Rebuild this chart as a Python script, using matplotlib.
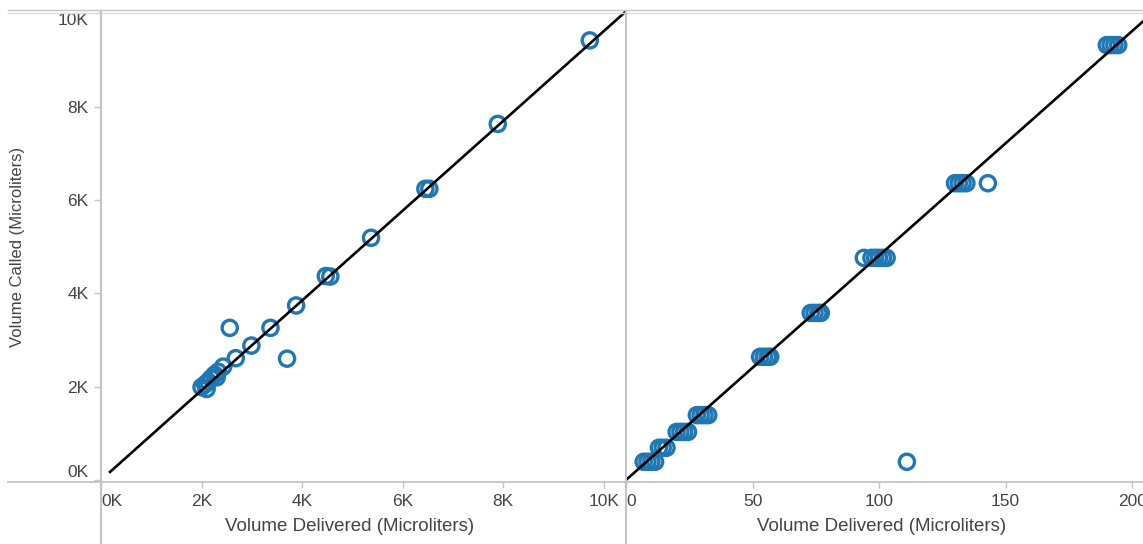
import numpy as np
import matplotlib.pyplot as plt
from matplotlib.lines import Line2D

plt.rcParams['font.family'] = ['Liberation Sans', 'DejaVu Sans']

# ---- data -------------------------------------------------------------------
# left panel: large volumes (microliters)
left_delivered = [2000, 2070, 2100, 2130, 2190, 2260, 2300, 2330, 2430, 2680,
                  2990, 3370, 3880, 4470, 4560, 5370, 6450, 6530, 7890, 9720,
                  2560, 3700]
left_called = [1990, 2050, 1950, 2110, 2180, 2260, 2200, 2320, 2430, 2610,
               2880, 3260, 3740, 4370, 4360, 5190, 6240, 6240, 7630, 9420,
               3260, 2600]

# right panel: small volumes delivered, same "called" axis
right_delivered = [7, 8.5, 10, 11.5,
                   13, 14.5, 16,
                   20, 21.5, 23, 24.5,
                   28, 29.5, 31, 32.5,
                   53, 54.5, 56, 57,
                   73, 74.5, 76, 77,
                   94, 97, 98.5, 100, 101.5, 103,
                   130, 131.5, 133, 134.5, 143,
                   190, 191.5, 193, 194.5,
                   111]
right_called = [390, 390, 390, 390,
                690, 690, 690,
                1030, 1030, 1030, 1030,
                1390, 1390, 1390, 1390,
                2640, 2640, 2640, 2640,
                3580, 3580, 3580, 3580,
                4760, 4760, 4760, 4760, 4760, 4760,
                6360, 6360, 6360, 6360, 6360,
                9320, 9320, 9320, 9320,
                390]

# trend lines: (slope, intercept, start x)
left_fit = (0.962, 0.0, 180)
right_fit = (48.1, 0.0, 0)

left_xticks = [0, 2000, 4000, 6000, 8000, 10000]
left_xlabels = ["0K", "2K", "4K", "6K", "8K", "10K"]
right_xticks = [0, 50, 100, 150, 200]
right_xlabels = ["0", "50", "100", "150", "200"]
yticks = [0, 2000, 4000, 6000, 8000, 10000]
ylabels = ["0K", "2K", "4K", "6K", "8K", "10K"]

# ---- style ------------------------------------------------------------------
BLUE = "#1f77b4"
GRID = "#c4c4c4"
TXT = "#444444"

W, H = 1143, 544
fig = plt.figure(figsize=(W / 100, H / 100), dpi=100)


def fx(px):
    return px / W


def fy(py):
    return 1 - py / H


top, bottom = 11, 482
ax1 = fig.add_axes([fx(101), fy(bottom), fx(626) - fx(101), fy(top) - fy(bottom)])
ax2 = fig.add_axes([fx(626), fy(bottom), fx(W) - fx(626), fy(top) - fy(bottom)], sharey=ax1)

ax1.set_xlim(0, 10440)
ax1.set_ylim(-43, 10050)
ax2.set_xlim(0, 204.3)

for ax, xs, ys, fit in ((ax1, left_delivered, left_called, left_fit),
                        (ax2, right_delivered, right_called, right_fit)):
    ax.scatter(xs, ys, s=120, facecolors="none", edgecolors=BLUE,
               linewidths=2.4, zorder=2, clip_on=False)
    lx = np.array([fit[2], ax.get_xlim()[1]])
    ax.plot(lx, fit[0] * lx + fit[1], color="black", lw=1.9, zorder=3)
    for s in ax.spines.values():
        s.set_visible(False)
    ax.patch.set_alpha(0)

ax1.set_xticks(left_xticks, left_xlabels)
ax2.set_xticks(right_xticks, right_xlabels)
ax1.set_yticks(yticks, ylabels)

for ax in (ax1, ax2):
    ax.tick_params(axis="x", length=4, width=1, color=GRID, labelcolor=TXT,
                   labelsize=12.5, pad=5)
    ax.set_xlabel("Volume Delivered (Microliters)", fontsize=13.5, color=TXT, labelpad=2)
    ax.get_xticklabels()[0].set_ha("left")
ax1.xaxis.set_label_coords(0.474, -0.076)
ax2.xaxis.set_label_coords(0.495, -0.076)
ax1.tick_params(axis="y", length=5, width=1, color=GRID, labelcolor=TXT,
                labelsize=12.5, pad=4)
ax2.tick_params(axis="y", left=False, labelleft=False)

# tableau-style clipping of the end labels
ylab = ax1.get_yticklabels()
ylab[0].set_va("bottom")
ylab[-1].set_va("top")

ax1.set_ylabel("Volume Called (Microliters)", fontsize=12, color=TXT)
ax1.yaxis.set_label_coords(-0.145, 0.5)

# ---- frame lines ------------------------------------------------------------
fig.add_artist(Line2D([fx(8), 1], [fy(bottom), fy(bottom)], color=GRID, lw=1.3,
                      transform=fig.transFigure))
fig.add_artist(Line2D([fx(8), 1], [fy(10), fy(10)], color=GRID, lw=1.0,
                      transform=fig.transFigure))
fig.add_artist(Line2D([fx(8), 1], [fy(13), fy(13)], color="#dcdcdc", lw=1.0,
                      transform=fig.transFigure))
for px in (101, 626):
    fig.add_artist(Line2D([fx(px), fx(px)], [fy(top), 0], color=GRID, lw=1.5,
                          transform=fig.transFigure))

fig.savefig("out.png", dpi=100, facecolor="white")
